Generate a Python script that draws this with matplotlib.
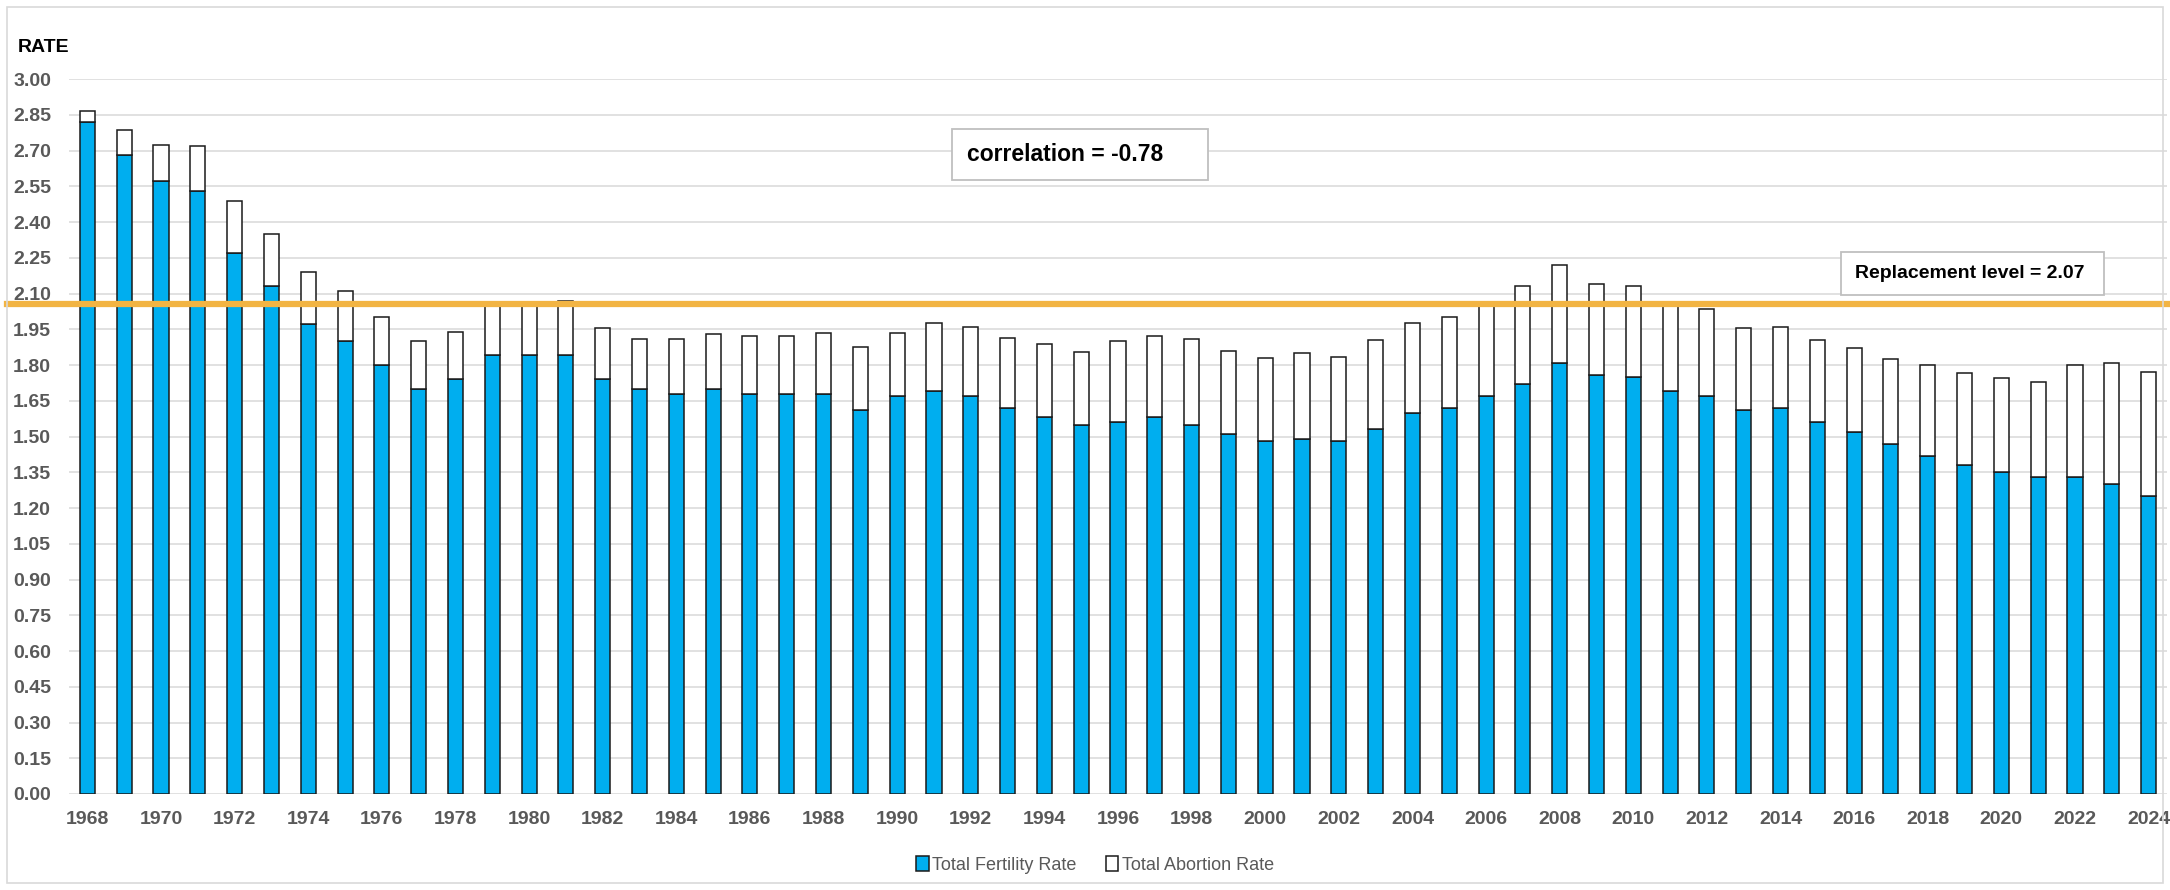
import matplotlib.pyplot as plt
import numpy as np
from matplotlib.patches import Rectangle

years = list(range(1968, 2025))

# total fertility rate (blue part)
fertility = [2.82, 2.68, 2.57, 2.53, 2.27, 2.13, 1.97, 1.90, 1.80, 1.70,
             1.74, 1.84, 1.84, 1.84, 1.74, 1.70, 1.68, 1.70, 1.68, 1.68,
             1.68, 1.61, 1.67, 1.69, 1.67, 1.62, 1.58, 1.55, 1.56, 1.58,
             1.55, 1.51, 1.48, 1.49, 1.48, 1.53, 1.60, 1.62, 1.67, 1.72,
             1.81, 1.76, 1.75, 1.69, 1.67, 1.61, 1.62, 1.56, 1.52, 1.47,
             1.42, 1.38, 1.35, 1.33, 1.33, 1.30, 1.25]

# total abortion rate (white part, stacked on top)
abortion = [0.045, 0.105, 0.155, 0.19, 0.22, 0.22, 0.22, 0.21, 0.20, 0.20,
            0.20, 0.21, 0.21, 0.23, 0.215, 0.21, 0.23, 0.23, 0.24, 0.24,
            0.255, 0.265, 0.265, 0.285, 0.29, 0.295, 0.31, 0.305, 0.34, 0.34,
            0.36, 0.35, 0.35, 0.36, 0.355, 0.375, 0.375, 0.38, 0.38, 0.41,
            0.41, 0.38, 0.38, 0.36, 0.365, 0.345, 0.34, 0.345, 0.35, 0.355,
            0.38, 0.385, 0.395, 0.40, 0.47, 0.51, 0.52]

yticks = np.arange(0, 3.001, 0.15)
replacement_label = "Replacement level = 2.07"
correlation_label = "correlation = -0.78"

plt.rcParams['font.family'] = ['Liberation Sans Narrow', 'DejaVu Sans Condensed',
                               'Liberation Sans', 'DejaVu Sans']

BLUE = '#00AEEF'
GREY_TXT = '#595959'
ORANGE = '#F2B443'
W, H = 2170, 890

fig = plt.figure(figsize=(21.7, 8.9), dpi=100)
ax = fig.add_axes([69 / W, 1 - 794 / H, 2098 / W, 715 / H])

x = np.arange(len(years))
w = 0.41
ax.bar(x, fertility, width=w, color=BLUE, edgecolor='#1a1a1a', linewidth=1.1,
       label='Total Fertility Rate', zorder=2)
ax.bar(x, abortion, width=w, bottom=fertility, color='white', edgecolor='#1a1a1a',
       linewidth=1.1, label='Total Abortion Rate', zorder=2)

# replacement level line (drawn over the bars, runs to the chart border)
ax.axhline(2.055, xmin=-62 / 2098, xmax=1.0, color=ORANGE, linewidth=4.5,
           zorder=4, clip_on=False)

ax.set_xlim(-0.5, len(years) - 0.5)
ax.set_ylim(0, 3.0)
ax.set_yticks(yticks)
ax.set_yticklabels([f"{v:.2f}" for v in yticks])
ax.set_xticks(x[::2])
ax.set_xticklabels([str(y) for y in years[::2]])
ax.grid(axis='y', color='#D9D9D9', linewidth=1.1, zorder=0)
ax.set_axisbelow(True)
for s in ax.spines.values():
    s.set_visible(False)
ax.tick_params(axis='both', length=0, labelsize=14, labelcolor=GREY_TXT)
ax.tick_params(axis='y', pad=13)
ax.tick_params(axis='x', pad=12)
for lab in ax.get_xticklabels() + ax.get_yticklabels():
    lab.set_fontweight('bold')

fig.text(18 / W, 1 - 47 / H, "RATE", fontsize=14, fontweight='bold',
         color='black', va='center', ha='left')


def text_box(x0, y0, x1, y1, tx, label, size):
    # box given in pixels from the top-left corner
    fig.patches.append(Rectangle((x0 / W, 1 - y1 / H), (x1 - x0) / W, (y1 - y0) / H,
                                 transform=fig.transFigure, facecolor='white',
                                 edgecolor='#BFBFBF', linewidth=1.3, zorder=5))
    fig.text(tx / W, 1 - (y0 + y1) / 2 / H, label, fontsize=size, fontweight='bold',
             color='black', va='center', ha='left', zorder=6)


text_box(952, 129, 1208, 180, 967, correlation_label, 16.5)
text_box(1841, 252, 2104, 295, 1855, replacement_label, 14)

leg = fig.legend(loc='center', bbox_to_anchor=(1095 / W, 1 - 865 / H), ncol=2,
                 frameon=False, fontsize=13, handlelength=0.7, handleheight=0.9,
                 handletextpad=0.2, columnspacing=1.6)
for t in leg.get_texts():
    t.set_color(GREY_TXT)

# chart area border
fig.patches.append(Rectangle((7 / W, 7 / H), 1 - 14 / W, 1 - 14 / H,
                             transform=fig.transFigure, fill=False,
                             edgecolor='#D9D9D9', linewidth=1.2))

fig.savefig('out.png', dpi=100)
